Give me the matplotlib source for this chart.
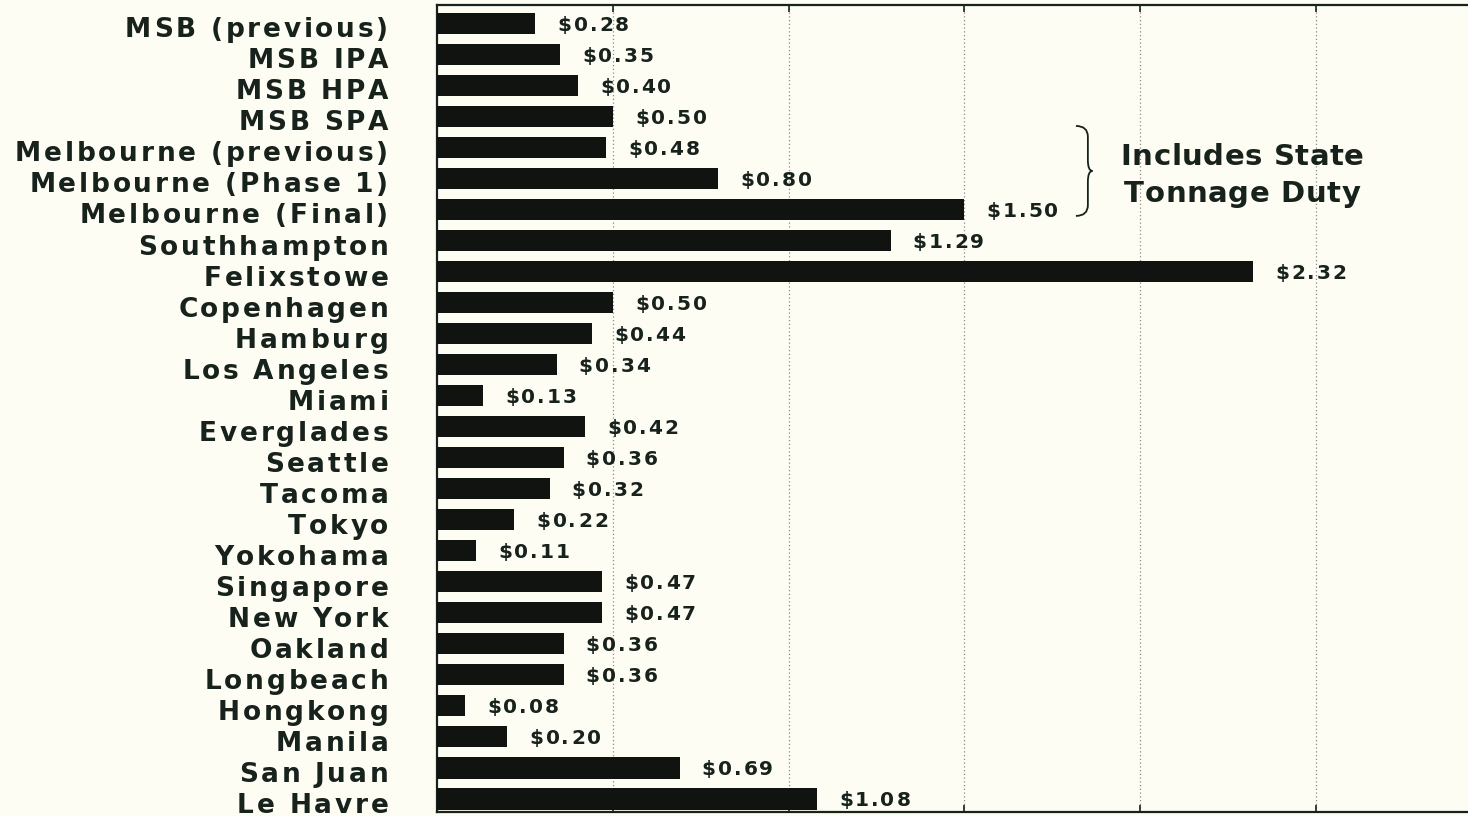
import matplotlib
matplotlib.use("Agg")
import matplotlib.pyplot as plt
import matplotlib.transforms as mtransforms
from matplotlib.path import Path
from matplotlib.patches import PathPatch
from matplotlib.ft2font import FT2Font
from matplotlib.font_manager import FontProperties, findfont

ports = ["MSB (previous)", "MSB IPA", "MSB HPA", "MSB SPA",
         "Melbourne (previous)", "Melbourne (Phase 1)", "Melbourne (Final)",
         "Southhampton", "Felixstowe", "Copenhagen", "Hamburg", "Los Angeles",
         "Miami", "Everglades", "Seattle", "Tacoma", "Tokyo", "Yokohama",
         "Singapore", "New York", "Oakland", "Longbeach", "Hongkong", "Manila",
         "San Juan", "Le Havre"]
charges = [0.28, 0.35, 0.40, 0.50, 0.48, 0.80, 1.50, 1.29, 2.32, 0.50, 0.44,
           0.34, 0.13, 0.42, 0.36, 0.32, 0.22, 0.11, 0.47, 0.47, 0.36, 0.36,
           0.08, 0.20, 0.69, 1.08]
note_lines = ["Includes State", "Tonnage Duty"]
state_rows = (3.3, 6.2)   # Melbourne rows covered by the brace

BG = "#fdfdf4"
INK = "#18221c"

fig = plt.figure(figsize=(14.68, 8.16), dpi=100, facecolor=BG)
ax = fig.add_axes([437 / 1468, 4 / 816, 1 - 437 / 1468, 807 / 816])
ax.set_facecolor(BG)

_font = FT2Font(findfont(FontProperties(family="DejaVu Sans", weight="bold")))


def advances(text, size):
    _font.set_size(size, 72)
    return [_font.load_char(ord(c)).linearHoriAdvance / 65536 for c in text]


def spaced_text(x, y, text, size, track, ha="left", trans=None, dx=0.0, dy=0.0):
    # letter-spaced bold text, centred vertically on the cap height
    adv = advances(text, size)
    total = sum(adv) + track * (len(text) - 1)
    pos = dx + {"left": 0.0, "center": -total / 2, "right": -total}[ha]
    base = trans if trans is not None else ax.transData
    for ch, a in zip(text, adv):
        if ch != " ":
            off = mtransforms.ScaledTranslation(
                pos / 72, (dy - 0.365 * size) / 72, fig.dpi_scale_trans)
            ax.text(x, y, ch, transform=base + off, fontsize=size,
                    fontweight="bold", family="DejaVu Sans", color=INK,
                    ha="left", va="baseline", clip_on=False)
        pos += a + track


rows = list(range(len(ports)))
ax.barh(rows, charges, height=0.68, color="#111311", zorder=3)

ax.set_xlim(0, 2.932)
ax.set_ylim(25.42, -0.6)
ax.set_xticks([0.5, 1.0, 1.5, 2.0, 2.5])
ax.set_xticklabels([])
ax.set_yticks([])
ax.tick_params(axis="x", direction="in", length=5, width=1.2, color=INK,
               top=True)
ax.grid(axis="x", color="#8a8a84", linestyle=(0, (1, 2)), linewidth=0.9,
        zorder=1)
for side in ("top", "bottom", "left"):
    ax.spines[side].set_color(INK)
    ax.spines[side].set_linewidth(1.6)
ax.spines["right"].set_visible(False)

# port names to the left of the axis
for r, name in zip(rows, ports):
    spaced_text(0, r, name, 19, 2.0, ha="right",
                trans=ax.get_yaxis_transform(), dx=-35, dy=-3)

# value labels after each bar
for r, v in zip(rows, charges):
    spaced_text(v, r, f"${v:.2f}", 14.5, 1.4, dx=16)

# brace marking the rows that include state tonnage duty
y0, y1 = state_rows
ym = (y0 + y1) / 2
x0, xs, xt = 1.817, 1.851, 1.864
c = 0.35
verts = [(x0, y0), (xs, y0), (xs, y0 + c), (xs, ym - c), (xs, ym), (xt, ym),
         (xs, ym), (xs, ym + c), (xs, y1 - c), (xs, y1), (x0, y1)]
codes = [Path.MOVETO, Path.CURVE3, Path.CURVE3, Path.LINETO, Path.CURVE3,
         Path.CURVE3, Path.CURVE3, Path.CURVE3, Path.LINETO, Path.CURVE3,
         Path.CURVE3]
ax.add_patch(PathPatch(Path(verts, codes), facecolor="none", edgecolor=INK,
                       linewidth=1.3, zorder=4))

for yy, line in zip((4.21, 5.4), note_lines):
    spaced_text(2.29, yy, line, 21, 0.4, ha="center")

fig.savefig("out.png", dpi=100, facecolor=BG)
